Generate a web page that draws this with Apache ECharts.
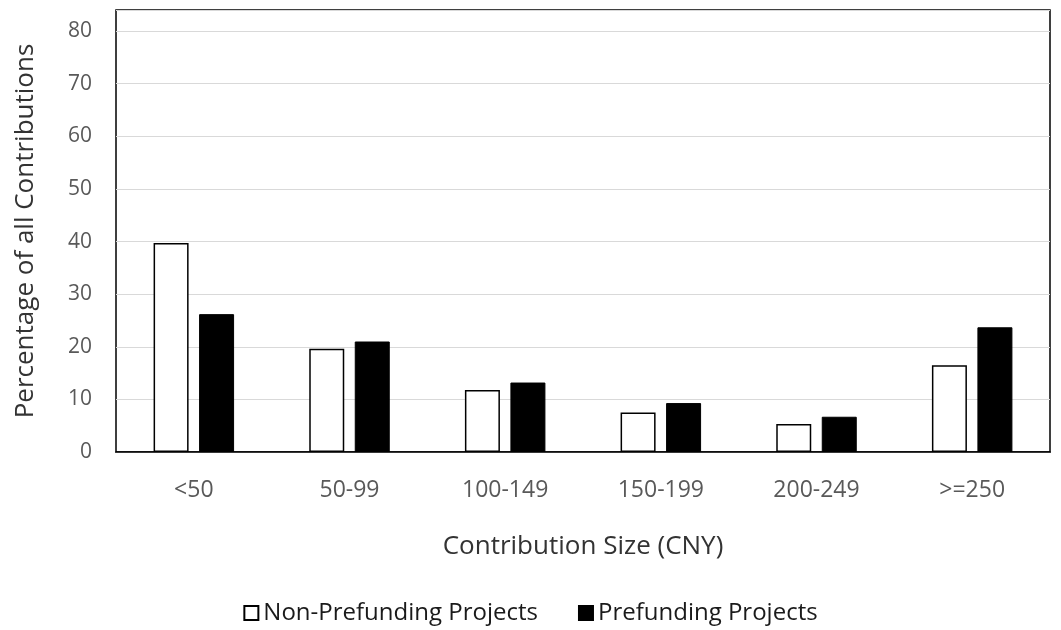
<!DOCTYPE html>
<html>
<head>
<meta charset="utf-8">
<script src="https://cdn.jsdelivr.net/npm/echarts@6/dist/echarts.min.js"></script>
<style>
  html, body { margin: 0; padding: 0; background: #fff; }
  #chart { width: 1061px; height: 630px; }
</style>
</head>
<body>
<div id="chart"></div>
<script>
// contribution size buckets (CNY)
const categories = ['<50', '50-99', '100-149', '150-199', '200-249', '>=250']
// percentage of all contributions
const nonPrefunding = [39.7, 19.6, 11.8, 7.5, 5.3, 16.5]
const prefunding = [26.2, 21.0, 13.2, 9.3, 6.7, 23.7]
const yTicks = [0, 10, 20, 30, 40, 50, 60, 70, 80]

const font = 'Open Sans'
const grey = '#595959'

let chart = echarts.init(document.getElementById('chart'))
chart.setOption({
  backgroundColor: '#fff',
  animation: false,
  textStyle: { fontFamily: font },
  grid: {
    left: 116, right: 11, top: 10, bottom: 178,
    show: true,
    borderColor: '#000',
    borderWidth: 1.5
  },
  legend: {
    bottom: 0,
    left: 'center',
    icon: 'rect',
    itemWidth: 14,
    itemHeight: 14,
    itemGap: 40,
    textStyle: { fontFamily: font, fontSize: 24, color: '#1a1a1a' },
    data: ['Non-Prefunding Projects', 'Prefunding Projects']
  },
  xAxis: {
    type: 'category',
    data: categories,
    name: 'Contribution Size (CNY)',
    nameLocation: 'middle',
    nameGap: 82,
    nameTextStyle: { fontFamily: font, fontSize: 26, color: '#333' },
    axisLine: { lineStyle: { color: '#000', width: 1.5 } },
    axisTick: { show: false },
    axisLabel: { fontSize: 23, color: grey, margin: 27 }
  },
  yAxis: {
    type: 'value',
    min: 0,
    max: 84,
    interval: 10,
    name: 'Percentage of all Contributions',
    nameLocation: 'middle',
    nameGap: 77,
    nameTextStyle: { fontFamily: font, fontSize: 26, color: '#333' },
    axisLine: { show: false },
    axisTick: { show: false },
    axisLabel: {
      fontSize: 21, color: grey, margin: 24,
      showMaxLabel: false,
      formatter: v => (yTicks.indexOf(v) >= 0 ? String(v) : '')
    },
    splitLine: { lineStyle: { color: '#d9d9d9', width: 1 } }
  },
  series: [
    {
      name: 'Non-Prefunding Projects',
      type: 'bar',
      barWidth: 35,
      barGap: '30%',
      itemStyle: { color: '#fff', borderColor: '#000', borderWidth: 1.5 },
      data: nonPrefunding
    },
    {
      name: 'Prefunding Projects',
      type: 'bar',
      barWidth: 35,
      itemStyle: { color: '#000', borderColor: '#000', borderWidth: 1 },
      data: prefunding
    }
  ]
})
</script>
</body>
</html>
